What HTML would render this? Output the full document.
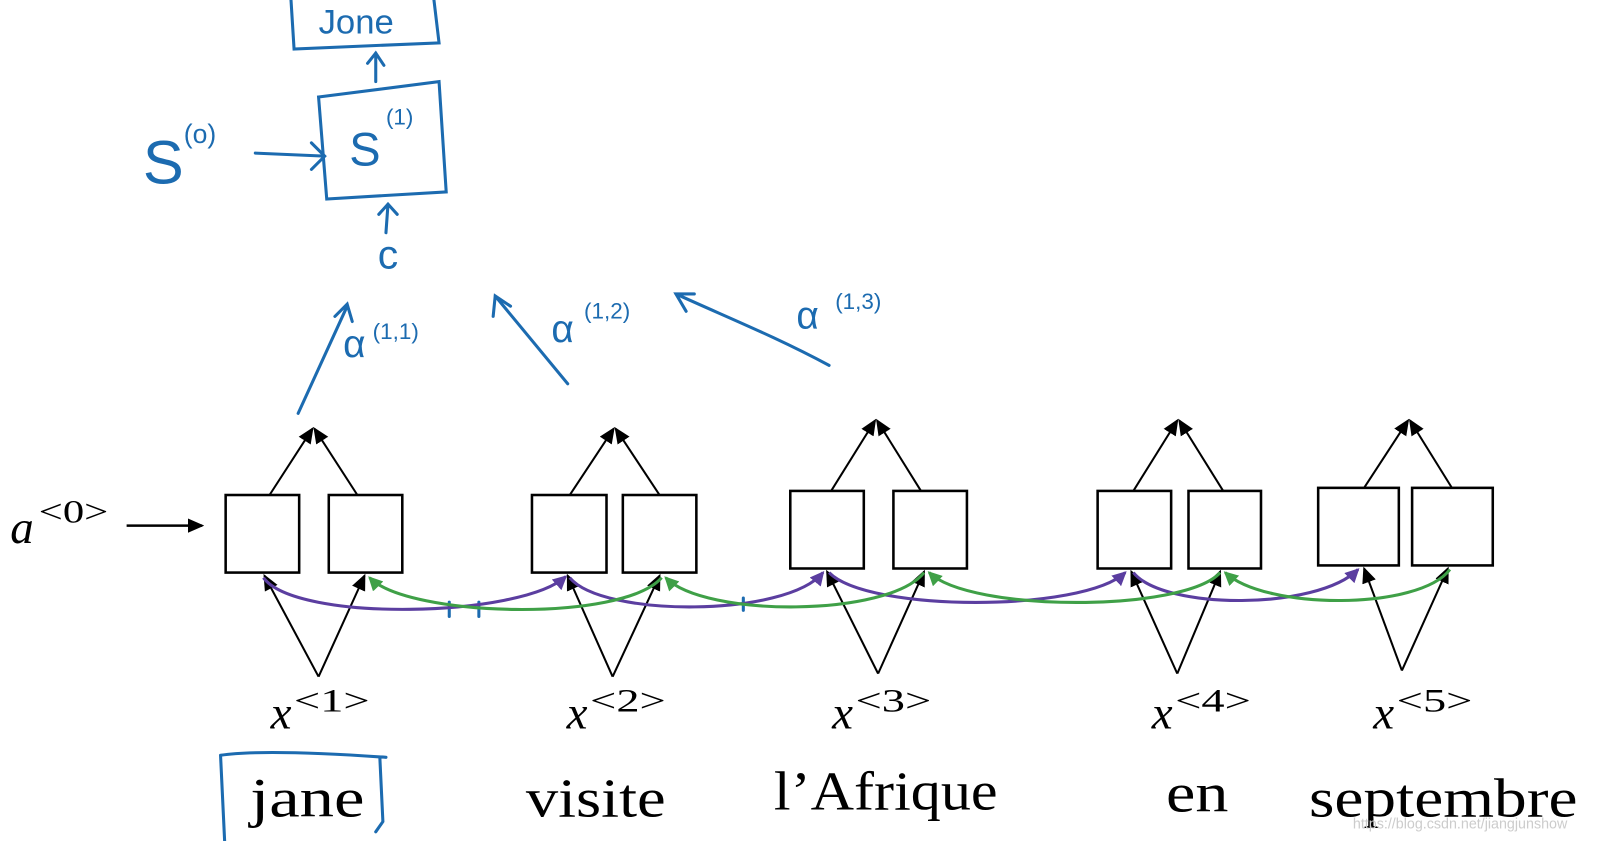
<!DOCTYPE html>
<html><head><style>html,body{margin:0;padding:0;background:#fff;overflow:hidden}svg{display:block}</style></head>
<body>
<svg width="1601" height="841" viewBox="0 0 1568 824" preserveAspectRatio="none" xmlns="http://www.w3.org/2000/svg">
<defs>
<marker id="bk" markerWidth="16" markerHeight="16" refX="14" refY="8" orient="auto" markerUnits="userSpaceOnUse"><path d="M0,1 L16,8 L0,15 z" fill="#000"/></marker>
<marker id="pu" markerWidth="14" markerHeight="14" refX="12" refY="7" orient="auto" markerUnits="userSpaceOnUse"><path d="M0,0 L14,7 L0,14 z" fill="#5b3ea0"/></marker>
<marker id="gr" markerWidth="14" markerHeight="14" refX="12" refY="7" orient="auto" markerUnits="userSpaceOnUse"><path d="M0,0 L14,7 L0,14 z" fill="#3fa047"/></marker>
</defs>
<rect width="1568" height="824" fill="#fff"/>
<g stroke="#1c6bb0" stroke-width="3" fill="none" stroke-linecap="round">
<path d="M285,0 L288,48 L430,42 L425,0"/>
<path d="M368,80 L368,52 M360,62 L368,52 L376,64"/>
<path d="M312,95 L430,80 L437,188 L320,195 Z"/>
<path d="M250,150 L318,153 M305,140 L318,153 L305,166"/>
<path d="M378,228 L380,200 M371,210 L380,200 L389,210"/>
<path d="M292,405 L340,300 M328,310 L340,298 L345,315"/>
<path d="M556,376 L485,290 M483,310 L485,290 L500,300"/>
<path d="M812,358 C760,330 710,310 662,288 M680,288 L662,288 L672,305"/>
<path d="M440,590 L440,604 M469,590 L469,604 M728,586 L728,598"/>
<path d="M216,740 C250,735 320,738 378,742 M216,740 L220,824 M372,742 L375,805 L368,815"/>
</g>
<g fill="#1c6bb0" font-family="Liberation Sans, sans-serif">
<text x="312" y="33" font-size="34">Jone</text>
<text x="140" y="180" font-size="60">S</text>
<text x="180" y="140" font-size="26">(o)</text>
<text x="342" y="162" font-size="46">S</text>
<text x="378" y="122" font-size="22">(1)</text>
<text x="370" y="263" font-size="40">c</text>
<text x="336" y="350" font-size="38">α</text>
<text x="365" y="332" font-size="22">(1,1)</text>
<text x="540" y="335" font-size="38">α</text>
<text x="572" y="312" font-size="22">(1,2)</text>
<text x="780" y="322" font-size="38">α</text>
<text x="818" y="303" font-size="22">(1,3)</text>
</g>
<g stroke="#000" stroke-width="2.5" fill="none">
<rect x="221" y="485" width="72" height="76"/><rect x="322" y="485" width="72" height="76"/>
<rect x="521" y="485" width="73" height="76"/><rect x="610" y="485" width="72" height="76"/>
<rect x="774" y="481" width="72" height="76"/><rect x="875" y="481" width="72" height="76"/>
<rect x="1075" y="481" width="72" height="76"/><rect x="1164" y="481" width="71" height="76"/>
<rect x="1291" y="478" width="79" height="76"/><rect x="1383" y="478" width="79" height="76"/>
</g>
<g stroke="#000" stroke-width="2" fill="none" marker-end="url(#bk)">
<path d="M264,485 L306,420"/><path d="M350,485 L308,420"/>
<path d="M558,485 L601,420"/><path d="M646,485 L603,420"/>
<path d="M814,481 L857,412"/><path d="M902,481 L859,412"/>
<path d="M1110,481 L1153,412"/><path d="M1198,481 L1155,412"/>
<path d="M1336,478 L1379,412"/><path d="M1422,478 L1381,412"/>
<path d="M312,663 L259,564"/><path d="M312,663 L357,564"/>
<path d="M600,663 L556,564"/><path d="M600,663 L646,564"/>
<path d="M860,660 L810,560"/><path d="M860,660 L905,560"/>
<path d="M1153,660 L1108,560"/><path d="M1153,660 L1195,560"/>
<path d="M1373,657 L1336,557"/><path d="M1373,657 L1418,557"/>
<path d="M124,515 L198,515" stroke-width="2.5"/>
</g>
<g stroke="#5b3ea0" stroke-width="3" fill="none" marker-end="url(#pu)">
<path d="M258,566 C290,610 510,605 554,565"/>
<path d="M558,566 C590,605 770,605 806,561"/>
<path d="M812,561 C850,600 1060,600 1102,561"/>
<path d="M1110,561 C1140,598 1290,598 1330,558"/>
</g>
<g stroke="#3fa047" stroke-width="3" fill="none" marker-end="url(#gr)">
<path d="M648,566 C610,610 400,605 362,566"/>
<path d="M905,561 C870,605 690,605 652,566"/>
<path d="M1195,561 C1160,600 950,600 910,561"/>
<path d="M1420,558 C1390,598 1240,598 1200,561"/>
</g>
<g font-family="Liberation Serif, serif" fill="#000">
<text x="10" y="532" font-size="46" font-style="italic">a</text><text x="38" y="512" font-size="32" textLength="68" lengthAdjust="spacingAndGlyphs">&lt;0&gt;</text>
<text x="265" y="714" font-size="46" font-style="italic">x</text><text x="288" y="697" font-size="32" textLength="74" lengthAdjust="spacingAndGlyphs">&lt;1&gt;</text>
<text x="555" y="714" font-size="46" font-style="italic">x</text><text x="578" y="697" font-size="32" textLength="74" lengthAdjust="spacingAndGlyphs">&lt;2&gt;</text>
<text x="815" y="714" font-size="46" font-style="italic">x</text><text x="838" y="697" font-size="32" textLength="74" lengthAdjust="spacingAndGlyphs">&lt;3&gt;</text>
<text x="1128" y="714" font-size="46" font-style="italic">x</text><text x="1151" y="697" font-size="32" textLength="74" lengthAdjust="spacingAndGlyphs">&lt;4&gt;</text>
<text x="1345" y="714" font-size="46" font-style="italic">x</text><text x="1368" y="697" font-size="32" textLength="74" lengthAdjust="spacingAndGlyphs">&lt;5&gt;</text>
<text x="245" y="800" font-size="54" textLength="112" lengthAdjust="spacingAndGlyphs">jane</text>
<text x="515" y="800" font-size="54" textLength="137" lengthAdjust="spacingAndGlyphs">visite</text>
<text x="758" y="793" font-size="54" textLength="219" lengthAdjust="spacingAndGlyphs">l’Afrique</text>
<text x="1142" y="795" font-size="54" textLength="61" lengthAdjust="spacingAndGlyphs">en</text>
<text x="1282" y="800" font-size="54" textLength="263" lengthAdjust="spacingAndGlyphs">septembre</text>
</g>
<text x="1325" y="812" font-family="Liberation Sans, sans-serif" font-size="14" fill="#ccc">https://blog.csdn.net/jiangjunshow</text>
</svg>
</body></html>
